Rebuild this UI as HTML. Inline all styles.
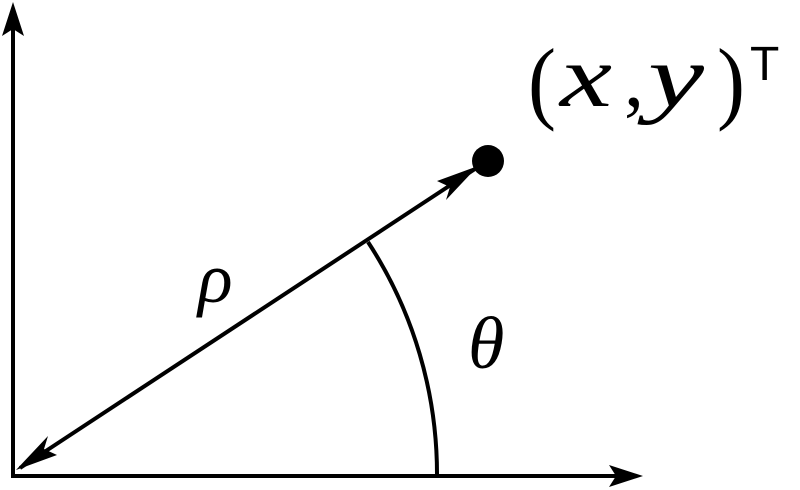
<!DOCTYPE html>
<html><head><style>html,body{margin:0;padding:0;background:#fff;}svg{display:block}</style></head>
<body>
<svg width="800" height="490" viewBox="0 0 800 490" xmlns="http://www.w3.org/2000/svg">
<g stroke="#000" stroke-width="4" fill="none">
<line x1="13" y1="478" x2="13" y2="8"/>
<line x1="11" y1="476" x2="636" y2="476"/>
<line x1="20" y1="468" x2="478" y2="167"/>
<path d="M368,242 A425,425 0 0 1 437,476"/>
</g>
<path d="M13,2 L24,36 L13,29 L2,36 Z" fill="#000"/>
<path d="M643,476 L609,487 L616,476 L609,465 Z" fill="#000"/>
<path d="M16,470 L48,436 L44,449 L57,455 Z" fill="#000"/>
<path d="M478,166 L446,200 L450,187 L437,181 Z" fill="#000"/>
<circle cx="488" cy="161" r="16" fill="#000"/>
<g font-family="'Liberation Serif', serif" font-style="italic" fill="#000">
<text x="198" y="302" font-size="72">ρ</text>
<text x="468" y="368" font-size="74">θ</text>
<text x="560" y="106" font-size="88" textLength="52" lengthAdjust="spacingAndGlyphs">x</text>
<text x="648" y="106" font-size="88" textLength="56" lengthAdjust="spacingAndGlyphs">y</text>
</g>
<g font-family="'Liberation Serif', serif" fill="#000">
<text x="528" y="112" font-size="92" textLength="28" lengthAdjust="spacingAndGlyphs">(</text>
<text x="624" y="106" font-size="80">,</text>
<text x="717" y="112" font-size="92" textLength="28" lengthAdjust="spacingAndGlyphs">)</text>
</g>
<text x="750" y="80" font-family="'Liberation Sans', sans-serif" font-size="48" fill="#000">T</text>
</svg>
</body></html>
